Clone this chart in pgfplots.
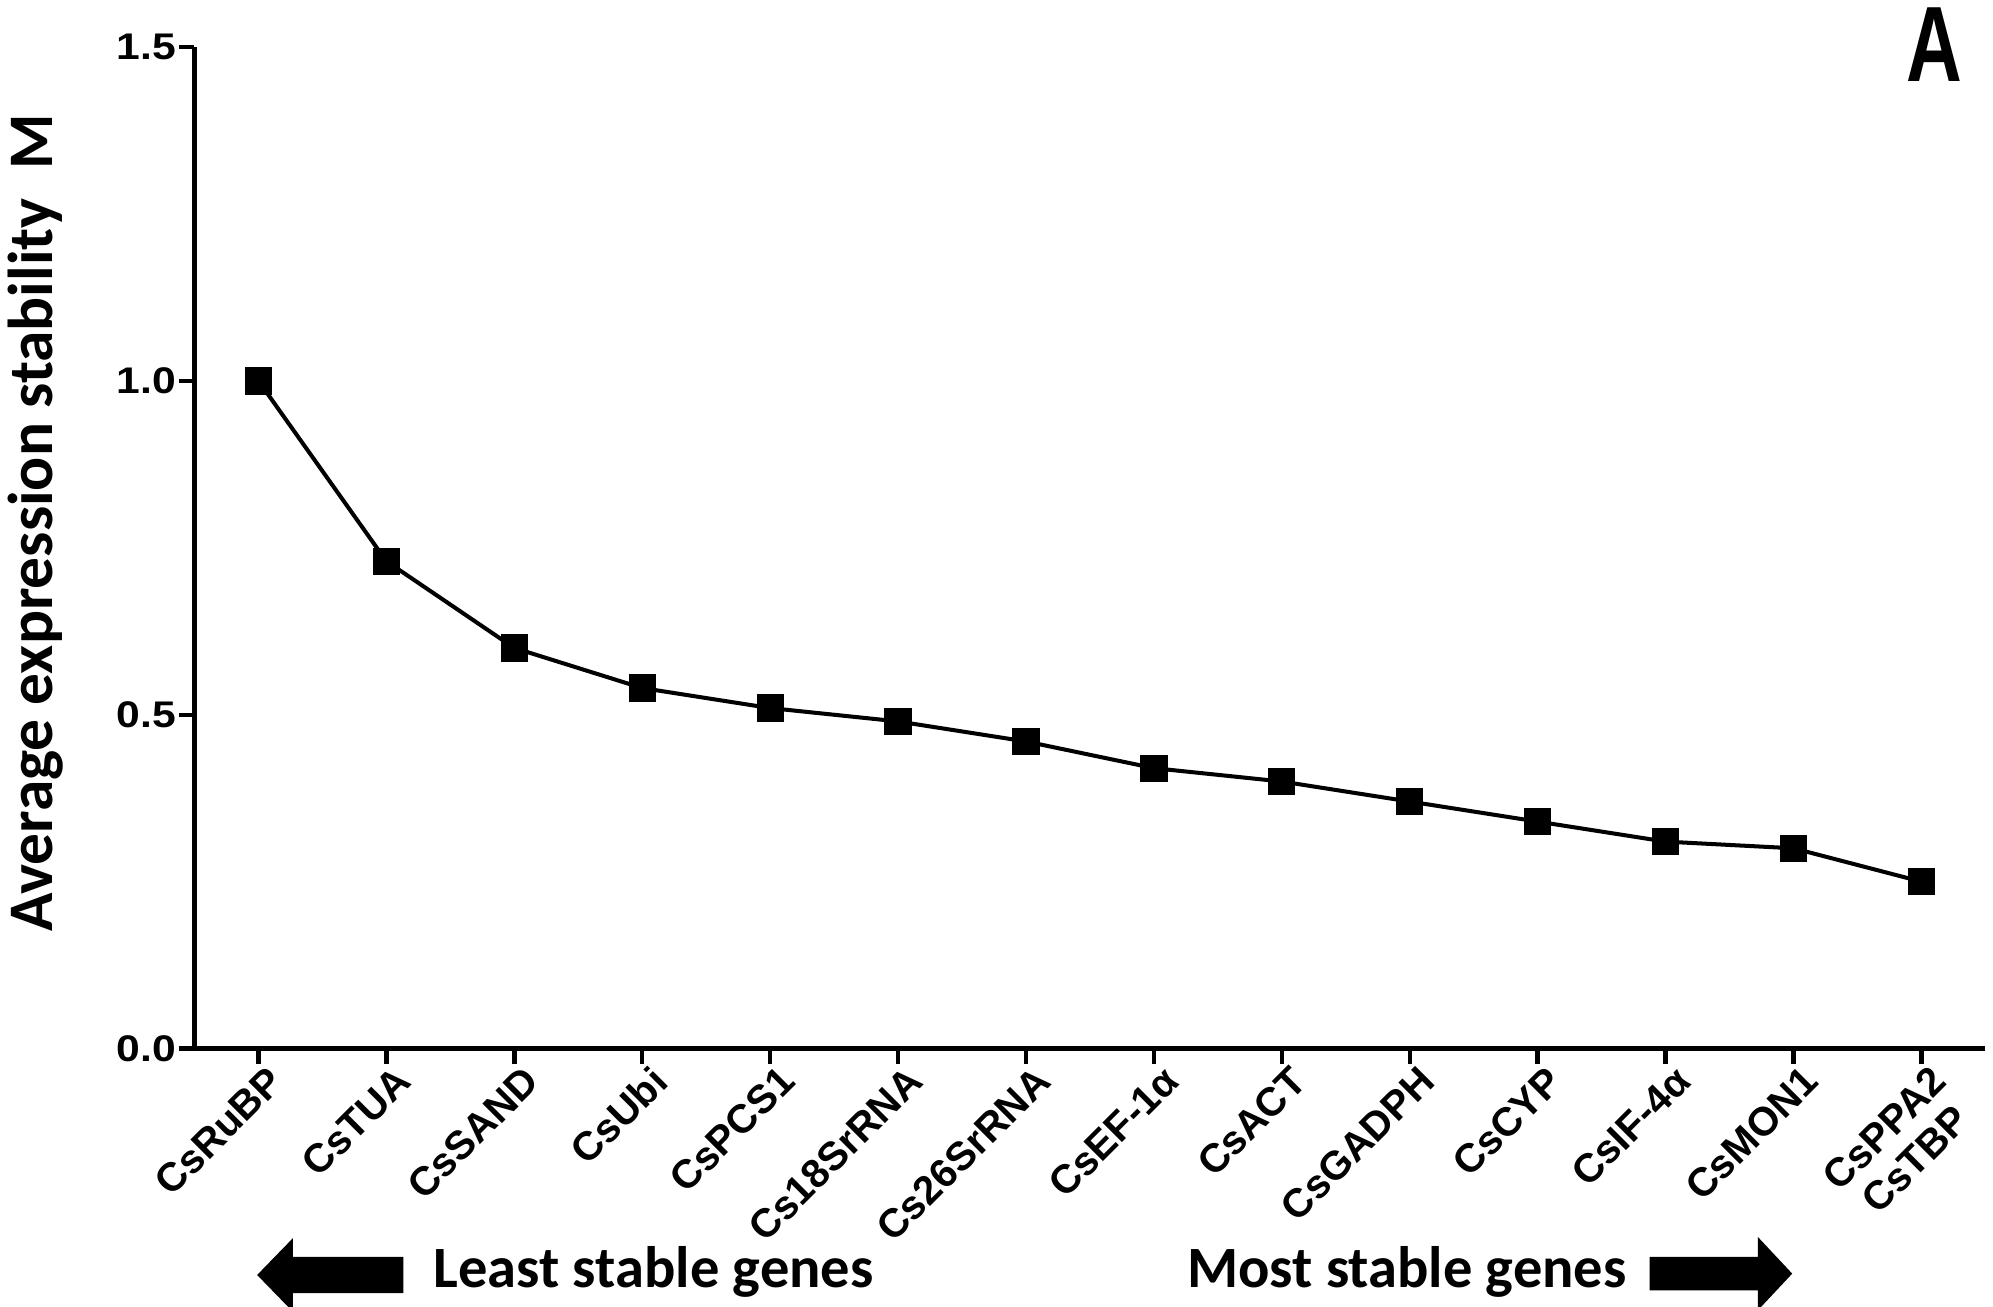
\documentclass[border=0pt]{standalone}
\usepackage{graphicx}
\usepackage{pgfplots}
\pgfplotsset{compat=1.18}
\usepackage{fontspec}
\setmainfont{Liberation Sans}
\newfontfamily\carlito{Carlito}
\usetikzlibrary{calc}

% wide, heavy tick numbers on the value axis
\newcommand\sx[1]{\scalebox{1.15}[1]{#1}}

\begin{document}
\begin{tikzpicture}
\begin{axis}[
  name=ax,
  scale only axis,
  width=140.9mm, height=78.8mm,
  xmin=-0.5, xmax=13.5, ymin=0, ymax=1.5,
  axis x line=bottom, axis y line=left,
  axis line style={-, line width=1.1pt, black},
  x axis line style={-}, y axis line style={-},
  xtick={0,...,13},
  xticklabels={CsRuBP,CsTUA,CsSAND,CsUbi,CsPCS1,Cs18SrRNA,Cs26SrRNA,CsEF-1α,CsACT,CsGADPH,CsCYP,CsIF-4α,CsMON1,{CsPPA2\\CsTBP}},
  ytick={0,0.5,1,1.5},
  yticklabels={\sx{0.0},\sx{0.5},\sx{1.0},\sx{1.5}},
  tick align=outside,
  major tick length=1.2mm,
  tick style={black, line width=1pt},
  xticklabel style={rotate=45, anchor=north east, align=center, inner sep=1pt,
    xshift=0.8mm, font=\bfseries\fontsize{9}{9.8}\selectfont},
  yticklabel style={font=\bfseries\fontsize{8.3}{9}\selectfont, inner sep=0.5pt},
  ylabel={Average expression stability\ \ M},
  ylabel style={font=\carlito\bfseries\fontsize{14.2}{16}\selectfont,
    at={(axis description cs:-0.0887,0.525)}, anchor=center},
  clip=false,
]
\addplot[black, line width=0.9pt, mark=square*, mark size=2.6pt, mark options={solid, fill=black}]
  coordinates {
  (0,1.00) (1,0.73) (2,0.60) (3,0.54) (4,0.51) (5,0.49) (6,0.46)
  (7,0.42) (8,0.40) (9,0.37) (10,0.34) (11,0.31) (12,0.30) (13,0.25)
  };

% direction arrows and captions under the gene names
\fill[black] (axis cs:-0.01,-0.339) -- (axis cs:0.269,-0.284) -- (axis cs:0.269,-0.312)
  -- (axis cs:1.134,-0.312) -- (axis cs:1.134,-0.366) -- (axis cs:0.269,-0.366)
  -- (axis cs:0.269,-0.394) -- cycle;
\fill[black] (axis cs:11.99,-0.337) -- (axis cs:11.721,-0.282) -- (axis cs:11.721,-0.312)
  -- (axis cs:10.876,-0.312) -- (axis cs:10.876,-0.362) -- (axis cs:11.721,-0.362)
  -- (axis cs:11.721,-0.392) -- cycle;
\node[anchor=base west, inner sep=0, font=\carlito\bfseries\fontsize{13.1}{15}\selectfont]
  at (axis cs:1.363,-0.358) {Least stable genes};
\node[anchor=base west, inner sep=0, font=\carlito\bfseries\fontsize{13.1}{15}\selectfont]
  at (axis cs:7.254,-0.358) {Most stable genes};

% panel letter
\node[inner sep=0, font=\bfseries\fontsize{24}{24}\selectfont]
  at (axis cs:13.1,1.503) {\scalebox{0.72}[1.0]{A}};
\end{axis}
\pgfresetboundingbox
\path[use as bounding box] ($(ax.south west)+(-15.3mm,-20.3mm)$) rectangle ($(ax.north east)+(0.6mm,3.7mm)$);
\end{tikzpicture}
\end{document}
